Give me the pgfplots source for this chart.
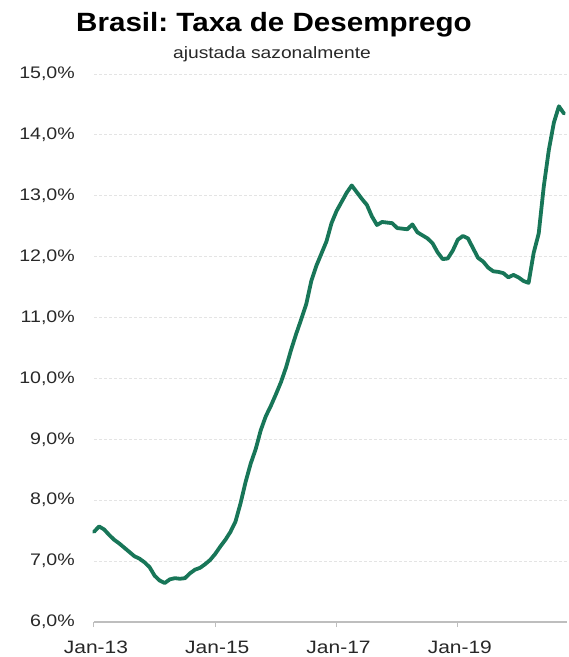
\documentclass[border=0pt]{standalone}
\usepackage{pgfplots}
\pgfplotsset{compat=1.18}
\usepackage{fontspec}
\setmainfont{Liberation Sans}[FakeStretch=1.17]
\newfontfamily\titlefont{Liberation Sans}[FakeStretch=1.12]
\definecolor{linegreen}{RGB}{24,118,88}
\definecolor{ticktext}{RGB}{40,40,40}
\definecolor{axisgray}{RGB}{190,190,190}
\definecolor{gridgray}{RGB}{228,228,228}
\frenchspacing
\begin{document}
\begin{tikzpicture}
\useasboundingbox (-94bp,-35bp) rectangle (475bp,622bp);
\begin{axis}[
  at={(0,0)}, anchor=south west,
  scale only axis, width=473bp, height=548bp,
  xmin=0, xmax=93.6, ymin=6, ymax=15,
  axis lines*=left,
  y axis line style={draw=none},
  x axis line style={draw=axisgray, line width=1.3bp},
  ytick={6,7,8,9,10,11,12,13,14,15},
  yticklabels={{6,0\%},{7,0\%},{8,0\%},{9,0\%},{10,0\%},{11,0\%},{12,0\%},{13,0\%},{14,0\%},{15,0\%}},
  ytick style={draw=none},
  ymajorgrids,
  grid style={draw=gridgray, line width=0.8bp, dash pattern=on 3bp off 2bp},
  xtick={0,24,48,72},
  xticklabels={Jan-13,Jan-15,Jan-17,Jan-19},
  xtick style={draw=axisgray, line width=1bp},
  tick align=outside,
  major tick length=5bp,
  tick label style={text=ticktext},
  yticklabel style={font=\fontsize{16.8}{18}\selectfont, anchor=east, inner sep=0pt, xshift=-14bp},
  xticklabel style={font=\fontsize{18}{20}\selectfont, anchor=north, inner sep=0pt, yshift=-14bp, xshift=2bp},
  clip=false,
]
\addplot[linegreen, line width=3.8bp, line join=round, line cap=round] coordinates {
(0,7.48) (1,7.57) (2,7.52) (3,7.43) (4,7.35) (5,7.29) (6,7.22) (7,7.15)
(8,7.08) (9,7.04) (10,6.98) (11,6.90) (12,6.76) (13,6.68) (14,6.64) (15,6.70)
(16,6.72) (17,6.71) (18,6.72) (19,6.80) (20,6.86) (21,6.89) (22,6.95) (23,7.02)
(24,7.12) (25,7.24) (26,7.35) (27,7.48) (28,7.65) (29,7.95) (30,8.30) (31,8.60)
(32,8.84) (33,9.15) (34,9.38) (35,9.55) (36,9.74) (37,9.94) (38,10.18) (39,10.47)
(40,10.73) (41,10.97) (42,11.22) (43,11.60) (44,11.85) (45,12.05) (46,12.25) (47,12.55)
(48,12.75) (49,12.90) (50,13.05) (51,13.17) (52,13.06) (53,12.95) (54,12.85) (55,12.66)
(56,12.52) (57,12.57) (58,12.56) (59,12.55) (60,12.47) (61,12.46) (62,12.45) (63,12.53)
(64,12.40) (65,12.35) (66,12.30) (67,12.22) (68,12.07) (69,11.96) (70,11.97) (71,12.10)
(72,12.28) (73,12.34) (74,12.30) (75,12.14) (76,11.98) (77,11.92) (78,11.82) (79,11.76)
(80,11.75) (81,11.73) (82,11.66) (83,11.70) (84,11.66) (85,11.60) (86,11.57) (87,12.06)
(88,12.38) (89,13.15) (90,13.75) (91,14.20) (92,14.47) (93,14.35)
};
\end{axis}
\node[anchor=base, inner sep=0pt] at (180bp,590bp) {\titlefont\bfseries\fontsize{26.5}{30}\selectfont Brasil: Taxa de Desemprego};
\node[anchor=base, inner sep=0pt, text=ticktext] at (178bp,563bp) {\fontsize{16.5}{18}\selectfont ajustada sazonalmente};
\end{tikzpicture}
\end{document}
